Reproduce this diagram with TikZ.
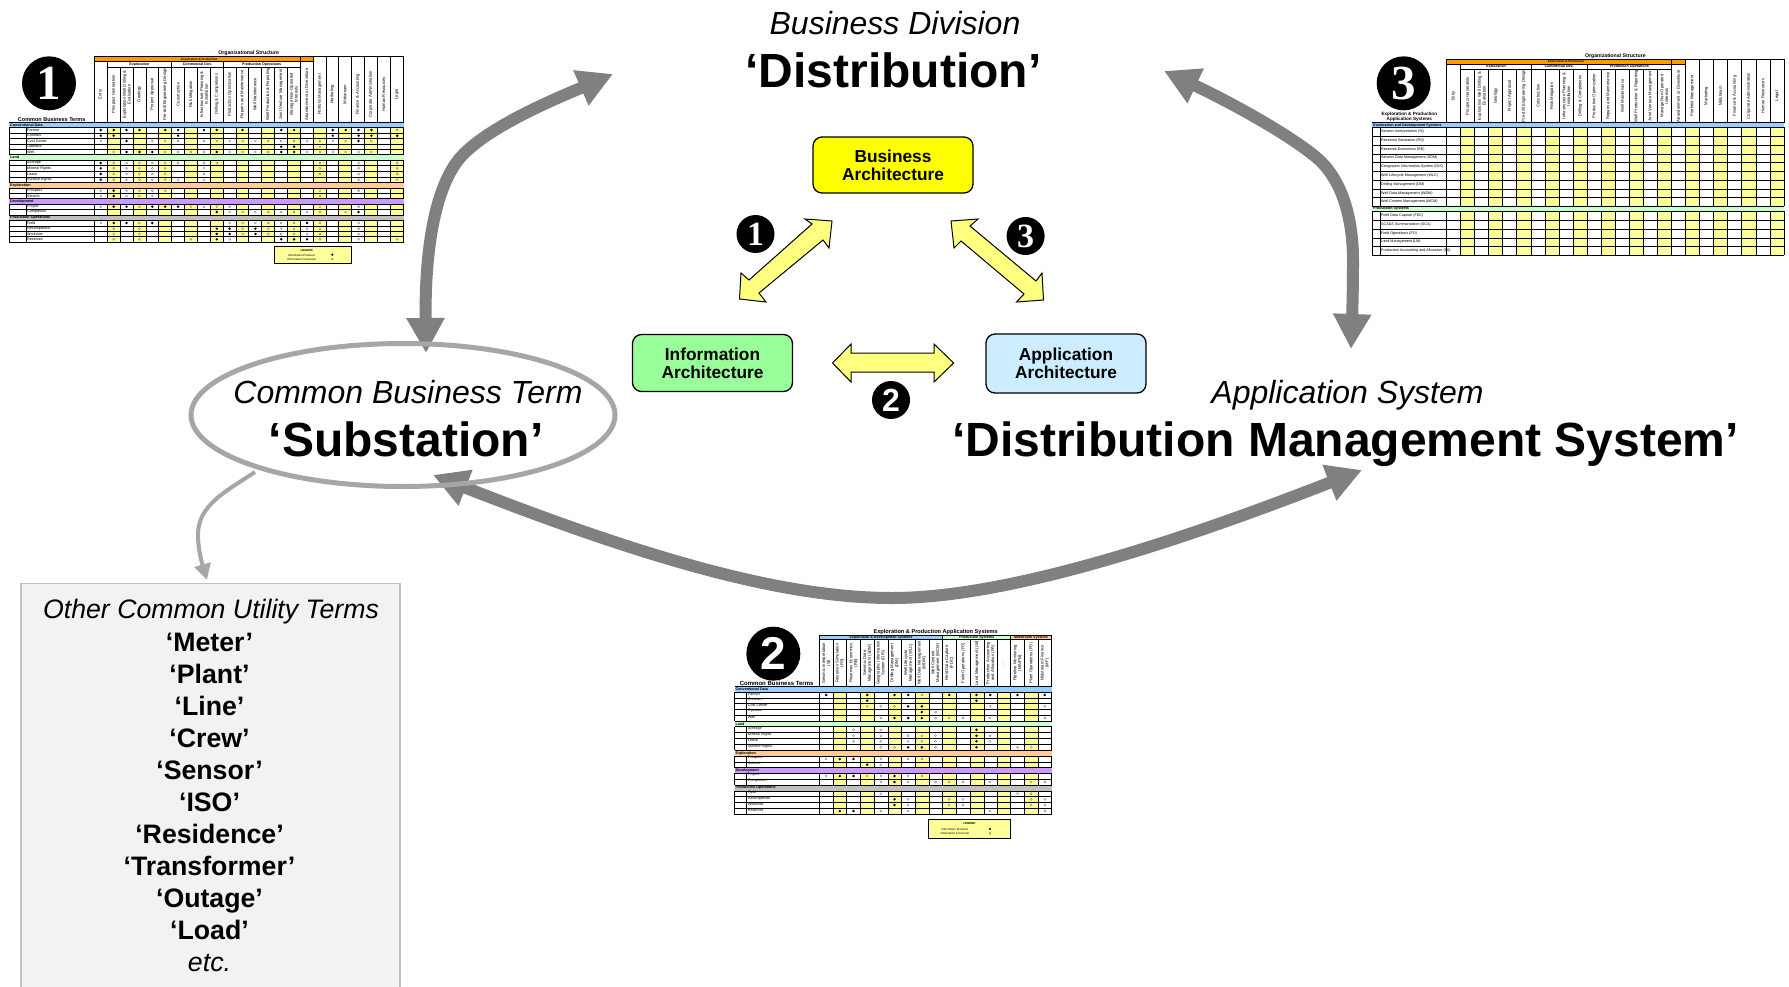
\documentclass[tikz,border=0pt]{standalone}
\usepackage{fontspec}
\setmainfont{Liberation Sans}
\newfontfamily\digserif{Liberation Serif}
\usetikzlibrary{arrows.meta}
\definecolor{cellyel}{HTML}{FFFF99}
\definecolor{arrowyel}{HTML}{FFFF80}
\definecolor{bandblue}{HTML}{99CCFF}
\definecolor{bandgreen}{HTML}{CCFFCC}
\definecolor{bandorange}{HTML}{FFCC99}
\definecolor{bandpurple}{HTML}{CC99FF}
\definecolor{bandgrey}{HTML}{C0C0C0}
\definecolor{hdrorange}{HTML}{FF9900}
\definecolor{biggrey}{HTML}{808080}
\definecolor{ringgrey}{HTML}{A6A6A6}
\definecolor{archyellow}{HTML}{FFFF00}
\definecolor{archgreen}{HTML}{99FF99}
\definecolor{archblue}{HTML}{CCECFF}
\newcommand{\fsz}[1]{\fontsize{#1}{#1}\selectfont}
\newcommand{\dotF}[2]{\foreach \c in {#2}{\fill[black] (\colx+\c*\colw+\colw/2,#1) circle[radius=1.35pt];}}
\newcommand{\dotO}[2]{\foreach \c in {#2}{\draw[black!55,line width=.3pt] (\colx+\c*\colw+\colw/2,#1) circle[radius=1.05pt];}}
\tikzset{
  bigarrow/.style={draw=biggrey,line width=12pt,{Triangle[length=35pt,width=36pt]}-{Triangle[length=35pt,width=36pt]}},
  blockarrow/.style={draw=black,fill=arrowyel,line width=1pt,line join=miter},
  archbox/.style={draw=black,line width=1.3pt,rounded corners=9pt,minimum width=160pt,align=center,inner sep=0pt,font=\fontsize{17.3}{18.2}\selectfont\bfseries},
  bigtitle/.style={anchor=base,inner sep=0pt,font=\fsz{48}\bfseries},
  bigital/.style={anchor=base,inner sep=0pt,font=\fsz{32}\itshape},
  termtxt/.style={anchor=base,inner sep=0pt,font=\fsz{26.7}\bfseries},
  termital/.style={anchor=base,inner sep=0pt,font=\fsz{26.7}\itshape},
  badge/.style={circle,fill=black,inner sep=0pt,text=white},
  gridln/.style={black,line width=.9pt},
  hdrtxt/.style={rotate=90,align=center,inner sep=0pt,font=\fontsize{4.2}{4.8}\selectfont},
  rowtxt/.style={anchor=west,inner sep=0pt,font=\fsz{3.7}},
  bandtxt/.style={anchor=west,inner sep=0pt,font=\fsz{3.7}\bfseries},
  subtxt/.style={inner sep=0pt,font=\fsz{3.6}\bfseries},
  titletxt/.style={inner sep=0pt,font=\fsz{5.2}\bfseries},
  legtxt/.style={inner sep=0pt,font=\fsz{2.9}},
}
\begin{document}
\begin{tikzpicture}[x=1pt,y=-1pt]
\clip (0,0) rectangle (1789,986);
\fill[white] (0,0) rectangle (1789,986);

% big connectors
\coordinate (divL) at (613,74);
\coordinate (termT) at (426,353);
\coordinate (divR) at (1164,71);
\coordinate (sysT) at (1351,349);
\coordinate (termB) at (433,475);
\coordinate (sysB) at (1362,470);
\draw[bigarrow] (termT) .. controls (425,270) and (430,200) .. (456,163) .. controls (480,129) and (560,97) .. (divL);
\draw[bigarrow] (divR) .. controls (1230,102) and (1290,135) .. (1317,158) .. controls (1345,182) and (1353,225) .. (1353,260) .. controls (1353,295) and (1352,320) .. (sysT);
\draw[bigarrow] (termB) .. controls (640,556) and (780,598) .. (892,598) .. controls (1000,598) and (1160,549) .. (sysB);

% central triangle
\node[archbox,fill=archyellow,minimum height=56pt] (ba) at (893,165) {Business\\Architecture};
\node[archbox,fill=archgreen,minimum height=57pt] (ia) at (712.5,363) {Information\\Architecture};
\node[archbox,fill=archblue,minimum height=59pt] (aa) at (1066,363.5) {Application\\Architecture};
\coordinate (a1t) at (832,221); \coordinate (a1b) at (739.5,299);
\coordinate (a3t) at (951,221); \coordinate (a3b) at (1043.5,300);
\coordinate (a2l) at (832.5,363); \coordinate (a2r) at (953.6,363);
\draw[blockarrow] (a1t) -- (829,248) -- (823,240) -- (759,293) -- (766,302) -- (a1b) -- (741,273) -- (749,280) -- (812,224) -- (805,219) -- cycle;
\draw[blockarrow] (a3t) -- (978,219) -- (970,226) -- (1036,281) -- (1042,273) -- (a3b) -- (1016.5,302) -- (1024,294) -- (961,241) -- (954,248) -- cycle;
\draw[blockarrow] (a2l) -- (851,344) -- (851,353) -- (934,353) -- (934,344) -- (a2r) -- (934,382) -- (934,372) -- (851,372) -- (851,382) -- cycle;
\node[badge,minimum size=38pt,font=\digserif\fsz{34}\bfseries] (b1) at (755.5,234) {1};
\node[badge,minimum size=38pt,font=\fsz{32}\bfseries] (b2) at (891,400) {2};
\node[badge,minimum size=38pt,font=\digserif\fsz{34}\bfseries] (b3) at (1025.6,236) {3};

% big labels
\node[bigital] (divk) at (895,34) {Business Division};
\node[bigtitle] (divn) at (893.5,87) {‘Distribution’};
\node[bigital] (termk) at (408,403.5) {Common Business Term};
\node[bigtitle] (termn) at (406,456.7) {‘Substation’};
\node[bigital] (sysk) at (1347.5,403.5) {Application System};
\node[bigtitle] (sysn) at (1345.5,456.7) {‘Distribution Management System’};

% other terms box
\node[draw=bandgrey,fill=black!5,line width=1.8pt,minimum width=379.5pt,minimum height=430pt,anchor=north west,inner sep=0pt] (other) at (19.7,582.5) {};
\node[termital] (ot0) at (211,618.5) {Other Common Utility Terms};
\foreach \y/\t in {651/Meter,683/Plant,715/Line,747/Crew,779/Sensor,811/ISO,843/Residence,875/Transformer,907/Outage,939/Load}
  \node[termtxt] (ot\y) at (209.5,\y) {‘\t’};
\node[termital] (ot962) at (209.5,971) {etc.};

% table 1
\begin{scope}[shift={(0,40)},x=0.33333pt,y=-0.33333pt]
\def\colx{283}\def\colw{38.67}
\foreach \a/\b in {322/361,399/438,476/514,554/593,632/670,709/746,785/824,862/901,940/978,1016/1054,1093/1132,1171/1211}
  \fill[cellyel] (\a,247) rectangle (\b,607);
\foreach \t/\b/\c in {247/262/bandblue,344/361/bandgreen,428/444/bandorange,476/492/bandpurple,525/541/bandgrey}
  \fill[\c] (27,\t) rectangle (1211,\b);
\foreach \t/\b in {262/344,361/428,444/476,492/525,541/607}{
  \foreach \x in {27,78,283,322,361,399,438,476,514,554,593,632,670,709,746,785,824,862,901,940,978,1016,1054,1093,1132,1171,1211}
    \draw[gridln] (\x,\t) -- (\x,\b);}
\foreach \y in {247,262,279,295,312,328,344,361,377,394,411,428,444,460,476,492,508,525,541,558,574,590,607}
  \draw[gridln] (27,\y) -- (1211,\y);
\fill[hdrorange] (283,50) rectangle (940,65);
\draw[gridln] (283,50) rectangle (1211,65);
\fill[white] (940,51) rectangle (1210,66);
\draw[gridln] (283,65) -- (940,65) (322,82) -- (901,82) (283,247) -- (1211,247);
\foreach \x in {283,901,940,978,1016,1054,1093,1132,1171,1211} \draw[gridln] (\x,50) -- (\x,247);
\foreach \x in {322,361,399,438,476,514,554,593,632,670,709,746,785,824,862} \draw[gridln] (\x,82) -- (\x,247);
\draw[gridln] (322,65) -- (322,82) (514,65) -- (514,82) (670,65) -- (670,82);
\draw[gridln] (940,50) -- (1211,50);
\node[titletxt] (t1title) at (746,40) {Organizational Structure};
\node[subtxt,font=\fsz{3}\bfseries] (t1ep) at (598,58) {Exploration \& Production};
\node[subtxt] (t1s1) at (418,74) {Exploration};
\node[subtxt] (t1s2) at (592,74) {Commercial Dev.};
\node[subtxt] (t1s3) at (785,74) {Production Operations};
\foreach \x/\l in {302/Entry,341/Prospect Generation,380/{Exploration Well Drilling \&\\Evaluation},418/Geology,457/Project Appraisal,495/{Pre-drill Engineering Design},534/Construction,573/Risk Mitigation,612/{Infrastructure Planning \&\\Installation},650/{Drilling \& Completions},689/Production Optimization,727/Repairs and Maintenance,765/Well Maintenance,804/{Well Production \& Reporting},843/Joint Venture Management,881/{Manage Non-Operated\\Interests},920/Abandonment or Divestiture,959/Portfolio Management,997/Marketing,1035/Midstream,1073/{Finance \& Accounting},1112/Corporate Administration,1151/Human Resources,1190/Legal}
  \node[hdrtxt] (t1h\x) at (\x,163) {\l};
\foreach \y/\l in {270/Partner,287/Contract,303/Cost Center,320/Operator,336/Well,369/Acreage,385/Mineral Rights,402/Lease,419/Surface Rights,452/Prospect,468/Seismic,500/Project,516/Completion,549/Field,566/Recompletion,582/Workover,598/Reserves}
  \node[rowtxt] (t1r\y) at (81,\y) {\l};
\foreach \y/\l in {254.5/Conventional Data,352.5/Land,436/Exploration,484/Development,533/Production Operations}
  \node[bandtxt] (t1b\y) at (30,\y) {\l};
\node[titletxt,font=\fsz{5.5}\bfseries] (t1cbt) at (155,238) {Common Business Terms};
\node[badge,minimum size=54pt,font=\digserif\fsz{49}\bfseries] (t1bd) at (147,130) {1};
\dotF{270}{0,1,2,3,5,6,8,9,11,14,15,18,19,20,21}\dotO{270}{23}
\dotF{287}{0,1,6,18,20,21,23}
\dotF{303}{2,20}\dotO{303}{0,4,5,6,8,9,10,11,12,13,14,15,16,17,18,19,21}
\dotF{320}{14,15}\dotO{320}{17}
\dotF{336}{2,3,4,9,14,15}\dotO{336}{1,5,6,7,8,10,11,12,13,16,17,18,19,20,21}
\dotF{369}{0}\dotO{369}{1,2,3,4,5,6,8,9,17,20,23}
\dotF{385}{0}\dotO{385}{1,2,3,4,5,8,17,20,23}
\dotF{402}{0}\dotO{402}{1,2,3,4,5,8,17,20,23}
\dotF{419}{0}\dotO{419}{1,2,3,4,5,6,8,20,23}
\dotF{452}{1}\dotO{452}{0,2,3,4,5,17,20}
\dotF{468}{1}\dotO{468}{0,2,3,4,17}
\dotF{500}{1,2,4,5,6}\dotO{500}{0,3,7,8,9,10,17,20}
\dotF{516}{9,20}\dotO{516}{10,11,12,13,14,15,16,17,19}
\dotF{549}{1,2,4,16}\dotO{549}{0,3,10,11,12,13,14,15,17,20}
\dotF{566}{9,10,12}\dotO{566}{1,3,11,13,14,15,16,17,20}
\dotF{582}{9,10,12}\dotO{582}{1,3,11,13,14,15,16,17,20}
\dotF{598}{9,14,15,16}\dotO{598}{1,3,7,10,17,20,23}
\node[draw=black,fill=cellyel,line width=.9pt,minimum width=77pt,minimum height=17pt,anchor=north west,inner sep=0pt] (t1leg) at (823,619) {};
\node[legtxt,font=\fsz{2.9}\bfseries] (t1legt) at (920,630) {LEGEND};
\node[legtxt] (t1legp) at (905,645) {Information Producer};
\node[legtxt] (t1legc) at (905,657) {Information Consumer};
\fill (997,644) circle[radius=1.2pt];
\draw[black!55,line width=.3pt] (997,657) circle[radius=1pt];
\end{scope}

% table 2
\begin{scope}[shift={(720,610)},x=0.33333pt,y=-0.33333pt]
\def\colx{298}\def\colw{41}
\foreach \a/\b in {340/380,422/463,504/545,586/627,668/709,751/792,833/872,914/955}
  \fill[cellyel] (\a,230) rectangle (\b,614);
\foreach \t/\b/\c in {230/247/bandblue,333/350/bandgreen,421/439/bandorange,473/490/bandpurple,525/543/bandgrey}
  \fill[\c] (44,\t) rectangle (995,\b);
\fill[bandblue] (298,75) rectangle (668,89);
\fill[bandgreen] (668,75) rectangle (872,89);
\fill[bandorange] (872,75) rectangle (995,89);
\foreach \t/\b in {247/333,350/421,439/473,490/525,543/614}{
  \foreach \x in {44,80,298,340,380,422,463,504,545,586,627,668,709,751,792,833,872,914,955,995}
    \draw[gridln] (\x,\t) -- (\x,\b);}
\foreach \y in {230,247,264,281,298,315,333,350,368,386,403,421,439,456,473,490,507,525,543,560,577,594,614}
  \draw[gridln] (44,\y) -- (995,\y);
\draw[gridln] (298,75) -- (995,75) (298,89) -- (995,89);
\foreach \x in {298,340,380,422,463,504,545,586,627,668,709,751,792,833,872,914,955,995} \draw[gridln] (\x,89) -- (\x,230);
\foreach \x in {298,668,872,995} \draw[gridln] (\x,75) -- (\x,89);
\node[titletxt,font=\fsz{5.6}\bfseries] (t2title) at (647,65) {Exploration \& Production Application Systems};
\node[subtxt] (t2s1) at (483,82) {Exploration \& Development Systems};
\node[subtxt] (t2s2) at (770,82) {Production Systems};
\node[subtxt] (t2s3) at (933,82) {Midstream Systems};
\foreach \x/\l in {319/{Seismic Interpretation\\(SI)},360/{Reservoir Simulation\\(RS)},401/{Reserves Economics\\(RE)},442/{Seismic Data\\Management (SDM)},483/{Geographic Information\\System (GIS)},524/{Drilling Management\\(DM)},565/{Well Lifecycle\\Management (WLC)},606/{Well Data Management\\(WDM)},647/{Well Content\\Management (WCM)},688/{Field Data Capture\\(FDC)},730/Field Operations (FO),771/Land Management (LM),812/{Production Accounting\\and Allocation (PA)},852/…,893/{Pipeline Monitoring\\(MA/PM)},934/Plant Operations (PO),975/{Midstream Finance\\(MF)}}
  \node[hdrtxt] (t2h\x) at (\x,159) {\l};
\foreach \y/\l in {255/Partner,272/Contract,289/Cost Center,306/Operator,324/Well,359/Acreage,377/Mineral Rights,394/Lease,412/Surface Rights,447/Prospect,464/Seismic,498/Project,516/Completion,551/Field,568/Recompletion,585/Workover,603/Reserves}
  \node[rowtxt] (t2r\y) at (83,\y-3) {\l};
\foreach \y/\l in {238.5/Conventional Data,341.5/Land,430/Exploration,481.5/Development,534/Production Operations}
  \node[bandtxt] (t2b\y) at (46,\y) {\l};
\node[titletxt,font=\fsz{6}\bfseries] (t2cbt) at (170,219) {Common Business Terms};
\node[badge,minimum size=54pt,font=\fsz{46}\bfseries] (t2bd) at (160,131) {2};
\dotF{255}{0,3,5,6,9,11,12,14,16}\dotO{255}{7}
\dotF{272}{3,11}
\dotF{289}{6,7}\dotO{289}{3,4,5,12,16}
\dotF{306}{7}\dotO{306}{8}
\dotF{324}{5,6,7}\dotO{324}{4,8,9,10,12,16}
\dotF{359}{11}\dotO{359}{2,4}
\dotF{377}{11}\dotO{377}{2,4,6,7,8,12}
\dotF{394}{11}\dotO{394}{2,4,6,7,8,12}
\dotF{412}{6,7,11}\dotO{412}{4,5,8,14,15}
\dotF{447}{1,2}\dotO{447}{0,4,6,7}
\dotF{464}{3}\dotO{464}{4}
\dotF{498}{1,2,5}\dotO{498}{0,3,4,6,7}
\dotF{516}{5}\dotO{516}{4,6,8,9,10,12,15,16}
\dotO{551}{4,14,15}
\dotF{568}{5}\dotO{568}{6,9,10,15,16}
\dotF{585}{5}\dotO{585}{6,9,10,15,16}
\dotF{603}{1,2}\dotO{603}{4,6,12,16}
\node[draw=black,fill=cellyel,line width=.9pt,minimum width=82pt,minimum height=18.6pt,anchor=north west,inner sep=0pt] (t2leg) at (625,628) {};
\node[legtxt,font=\fsz{2.9}\bfseries] (t2legt) at (748,640) {LEGEND};
\node[legtxt] (t2legp) at (705,658) {Information Producer};
\node[legtxt] (t2legc) at (705,670) {Information Consumer};
\fill (810,657) circle[radius=1.2pt];
\draw[black!55,line width=.3pt] (810,670) circle[radius=1pt];
\end{scope}

% table 3
\begin{scope}[shift={(1360,40)},x=0.33333pt,y=-0.33333pt]
\foreach \a/\b in {302/344,386/428,470/513,555/598,640/682,724/766,808/850,892/934,976/1018,1060/1103,1145/1188,1230/1272}
  \fill[cellyel] (\a,248) rectangle (\b,646);
\fill[bandblue] (37,248) rectangle (1272,262);
\fill[bandgreen] (37,498) rectangle (1272,514);
\foreach \t/\b in {262/498,514/646}{
  \foreach \x in {37,60,260,302,344,386,428,470,513,555,598,640,682,724,766,808,850,892,934,976,1018,1060,1103,1145,1188,1230,1272}
    \draw[gridln] (\x,\t) -- (\x,\b);}
\foreach \y in {248,262,289,316,342,367,394,420,447,472,498,514,541,568,594,619,646}
  \draw[gridln] (37,\y) -- (1272,\y);
\fill[hdrorange] (260,57) rectangle (976,72);
\draw[gridln] (260,57) -- (1272,57) (260,72) -- (976,72) (302,88) -- (934,88);
\foreach \x in {260,934,976,1018,1060,1103,1145,1188,1230,1272} \draw[gridln] (\x,57) -- (\x,248);
\foreach \x in {302,344,386,428,470,513,555,598,640,682,724,766,808,850,892} \draw[gridln] (\x,88) -- (\x,248);
\draw[gridln] (302,72) -- (302,88) (513,72) -- (513,88) (682,72) -- (682,88);
\node[titletxt] (t3title) at (766,48) {Organizational Structure};
\node[subtxt,font=\fsz{3}\bfseries] (t3ep) at (618,65) {Exploration \& Production};
\node[subtxt] (t3s1) at (408,80) {Exploration};
\node[subtxt] (t3s2) at (597,80) {Commercial Dev.};
\node[subtxt] (t3s3) at (808,80) {Production Operations};
\foreach \x/\l in {281/Entry,323/Prospect Generation,365/{Exploration Well Drilling \&\\Evaluation},407/Geology,449/Project Appraisal,491/{Pre-drill Engineering Design},534/Construction,576/Risk Mitigation,619/{Infrastructure Planning \&\\Installation},661/{Drilling \& Completions},703/Production Optimization,745/Repairs and Maintenance,787/Well Maintenance,829/{Well Production \& Reporting},871/Joint Venture Management,913/{Manage Non-Operated\\Interests},955/Abandonment or Divestiture,997/Portfolio Management,1039/Marketing,1081/Midstream,1124/{Finance \& Accounting},1166/Corporate Administration,1209/Human Resources,1251/Legal}
  \node[hdrtxt] (t3h\x) at (\x,168) {\l};
\foreach \y/\l in {275/Seismic Interpretation (SI),302/Reservoir Simulation (RS),328/Reserves Economics (RE),354/Seismic Data Management (SDM),380/Geographic Information System (GIS),407/Well Lifecycle Management (WLC),433/Drilling Management (DM),460/Well Data Management (WDM),485/Well Content Management (WCM),527/Field Data Capture (FDC),554/SCADA Summarization (SCA),581/Field Operations (FO),606/Land Management (LM),632/Production Accounting and Allocation (PA)}
  \node[rowtxt] (t3r\y) at (63,\y) {\l};
\node[bandtxt] (t3b1) at (39,256) {Exploration and Development Systems};
\node[bandtxt] (t3b2) at (39,507) {Production Systems};
\node[titletxt,font=\fsz{4.6}\bfseries] (t3l1) at (148,224) {Exploration \& Production};
\node[titletxt,font=\fsz{4.6}\bfseries] (t3l2) at (148,239) {Application Systems};
\node[badge,minimum size=54pt,font=\digserif\fsz{49}\bfseries] (t3bd) at (131,130) {3};
\end{scope}

% ellipse over the arrows
\draw[ringgrey,line width=5pt] (403,415) ellipse [x radius=212,y radius=71.5];
\coordinate (eout) at (255,472);
\coordinate (boxin) at (207,580);
\draw[ringgrey,line width=4pt,-{Triangle[length=16pt,width=16pt]}] (eout) .. controls (225,492) and (198,505) .. (198,535) .. controls (198,550) and (202,563) .. (boxin);
\end{tikzpicture}
\end{document}
